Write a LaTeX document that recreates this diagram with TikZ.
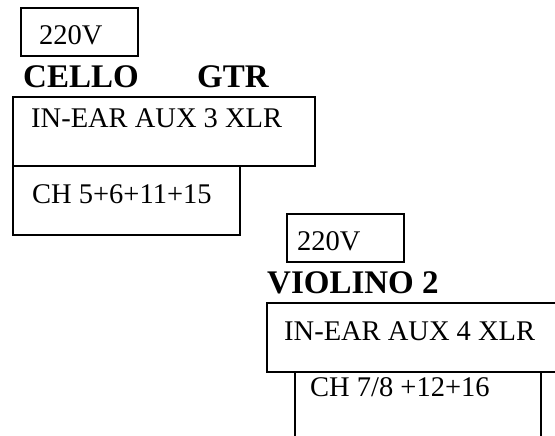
\documentclass[tikz,border=0pt]{standalone}
\usepackage{fontspec}
\setmainfont{Liberation Serif}
\begin{document}
\begin{tikzpicture}[x=1pt,y=-1pt,
  boxline/.style={draw=black,line width=1.2pt},
  txt/.style={anchor=base west,inner sep=0pt,font=\fontsize{28.5}{32}\selectfont},
  head/.style={anchor=base west,inner sep=0pt,font=\fontsize{33}{37}\selectfont\bfseries}]
\useasboundingbox (0,0) rectangle (555,436);
\begin{scope}
\clip (0,0) rectangle (555,436);
% first group
\draw[boxline] (21,8) rectangle (138,56);
\node[txt] (va) at (39,45) {220V};
\node[head] (cello) at (23,88) {CELLO};
\node[head] (gtr) at (197,88) {GTR};
\draw[boxline] (13,97) rectangle (315,166);
\node[txt] (auxa) at (31,128) {IN-EAR AUX 3 XLR};
\draw[boxline] (13,166) rectangle (240,235);
\node[txt] (cha) at (32,203) {CH 5+6+11+15};
% second group
\draw[boxline] (287,214) rectangle (404,262);
\node[txt] (vb) at (297,250) {220V};
\node[head] (viol) at (267,293) {VIOLINO 2};
\draw[boxline] (267,303) rectangle (570,372);
\node[txt] (auxb) at (284,340) {IN-EAR AUX 4 XLR};
\draw[boxline] (295,450) -- (295,372) -- (541,372) -- (541,450);
\node[txt] (chb) at (310,396) {CH 7/8 +12+16};
\end{scope}
\end{tikzpicture}
\end{document}
